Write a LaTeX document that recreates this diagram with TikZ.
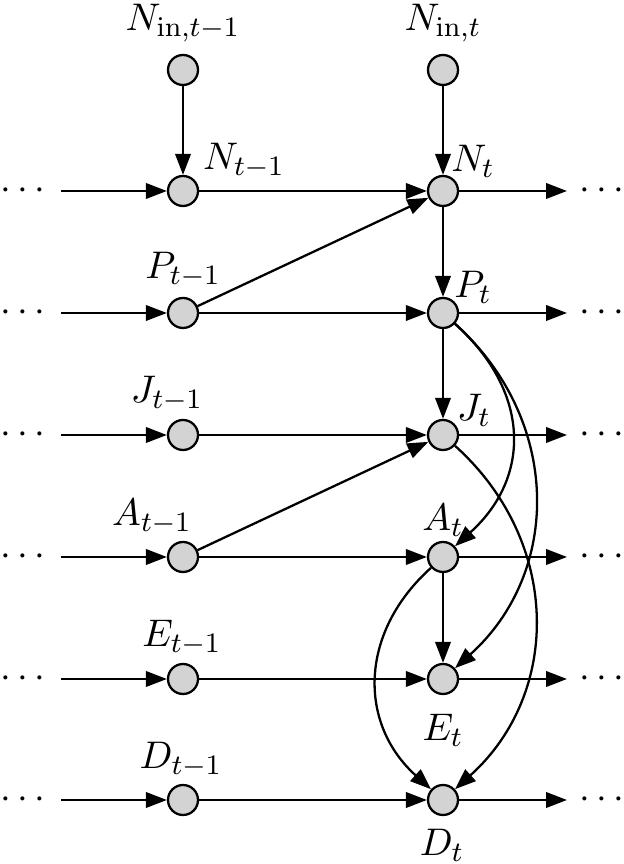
\documentclass[tikz,border=0pt]{standalone}
\usetikzlibrary{arrows.meta}
\definecolor{nodegray}{RGB}{211,211,211}
\begin{document}
\begin{tikzpicture}[
  x=1cm,y=1cm,
  every node/.style={font=\fontsize{10.95}{13}\selectfont},
  var/.style={circle,draw,fill=nodegray,minimum size=0.3cm,inner sep=0pt,line width=0.65pt},
  arr/.style={line width=0.65pt,-{Triangle[length=2.1mm,width=1.55mm]}},
  lab/.style={inner sep=0pt},
]
\useasboundingbox (0,0) rectangle (6.23,8.64);
% input nodes
\node[var] (Nin1) at (1.83,7.94) {};
\node[var] (Nin2) at (4.43,7.94) {};
% state nodes
\foreach \r/\y in {N/6.73,P/5.51,J/4.29,A/3.07,E/1.85,D/0.64} {
  \node[var] (\r1) at (1.83,\y) {};
  \node[var] (\r2) at (4.43,\y) {};
  \coordinate (s\r) at (0.61,\y);
  \coordinate (e\r) at (5.67,\y);
  \node (dl\r) at (0.23,\y) {$\cdots$};
  \node (dr\r) at (6.02,\y) {$\cdots$};
}
% labels
\node[lab] (lNin1) at (1.83,8.41) {$N_{\mathrm{in},t-1}$};
\node[lab] (lNin2) at (4.43,8.41) {$N_{\mathrm{in},t}$};
\node[lab] (lN1) at (2.44,7.03) {$N_{t-1}$};
\node[lab] (lN2) at (4.73,7.03) {$N_{t}$};
\node[lab] (lP1) at (1.83,5.94) {$P_{t-1}$};
\node[lab] (lP2) at (4.73,5.77) {$P_{t}$};
\node[lab] (lJ1) at (1.67,4.70) {$J_{t-1}$};
\node[lab] (lJ2) at (4.74,4.54) {$J_{t}$};
\node[lab] (lA1) at (1.52,3.47) {$A_{t-1}$};
\node[lab] (lA2) at (4.43,3.44) {$A_{t}$};
\node[lab] (lE1) at (1.82,2.26) {$E_{t-1}$};
\node[lab] (lE2) at (4.43,1.34) {$E_{t}$};
\node[lab] (lD1) at (1.81,1.04) {$D_{t-1}$};
\node[lab] (lD2) at (4.42,0.19) {$D_{t}$};
% horizontal chains
\foreach \r in {N,P,J,A,E,D} {
  \draw[arr] (s\r) -- (\r1);
  \draw[arr] (\r1) -- (\r2);
  \draw[arr] (\r2) -- (e\r);
}
% vertical and diagonal
\draw[arr] (Nin1) -- (N1);
\draw[arr] (Nin2) -- (N2);
\draw[arr] (N2) -- (P2);
\draw[arr] (P2) -- (J2);
\draw[arr] (A2) -- (E2);
\draw[arr] (P1) -- (N2);
\draw[arr] (A1) -- (J2);
% curves
\draw[arr] (P2) to[bend left=48, looseness=1.18] (A2);
\draw[arr] (P2) to[bend left=48, looseness=1.07] (E2);
\draw[arr] (J2) to[bend left=48, looseness=1.07] (D2);
\draw[arr] (A2) to[bend right=48, looseness=1.13] (D2);
\end{tikzpicture}
\end{document}
